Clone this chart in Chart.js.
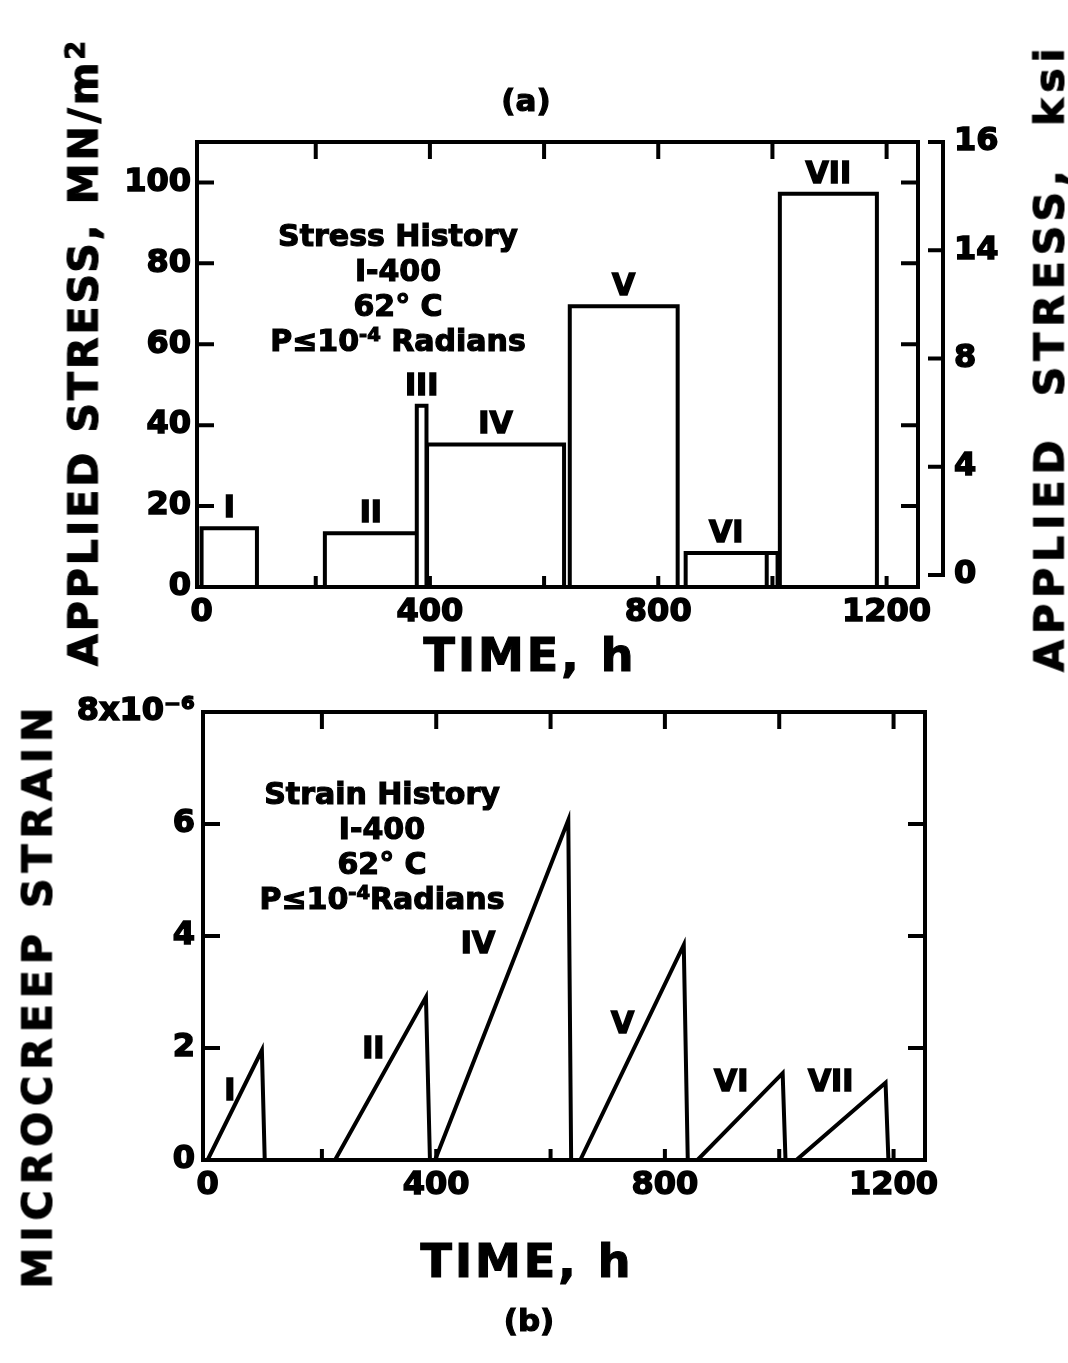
<!DOCTYPE html>
<html>
<head>
<meta charset="utf-8">
<script src="https://cdn.jsdelivr.net/npm/chart.js@4.4.1/dist/chart.umd.min.js"></script>
<style>
  body { margin: 0; background: #fff; }
  #page { position: relative; width: 1068px; height: 1363px; overflow: hidden;
          font-family: "DejaVu Sans", sans-serif; font-weight: bold; color: #000;
          -webkit-text-stroke: 1.2px #000; }
  .panel { position: absolute; left: 0; width: 1068px; }
  .lbl { position: absolute; white-space: nowrap; line-height: 1; transform: translate(-50%, -50%); }
  .vlbl { position: absolute; white-space: nowrap; line-height: 1; transform: translate(-50%, -50%) rotate(-90deg); }
  .note { position: absolute; text-align: center; font-size: 30px; line-height: 35px; white-space: nowrap; transform: translateX(-50%); }
  sup { font-size: 0.65em; vertical-align: 0.5em; line-height: 0; }
</style>
</head>
<body>
<div id="page">
  <div class="panel" style="top:0;height:680px"><canvas id="stressChart"></canvas></div>
  <div class="panel" style="top:680px;height:683px"><canvas id="strainChart"></canvas></div>

  <div class="lbl" style="left:526px;top:100px;font-size:31px">(a)</div>
  <div class="lbl" style="left:529px;top:1320px;font-size:31px">(b)</div>

  <div class="vlbl" style="left:84px;top:352px;font-size:41px;letter-spacing:3px">APPLIED STRESS, MN/m<sup>2</sup></div>
  <div class="vlbl" style="left:1050px;top:357px;font-size:41px;letter-spacing:6px;word-spacing:18px">APPLIED STRESS, ksi</div>
  <div class="vlbl" style="left:38px;top:995px;font-size:41px;letter-spacing:6px">MICROCREEP STRAIN</div>

  <div class="lbl" style="left:530px;top:655px;font-size:46px;letter-spacing:3px">TIME, h</div>
  <div class="lbl" style="left:527px;top:1261px;font-size:46px;letter-spacing:3px">TIME, h</div>

  <div class="note" style="left:398px;top:218px">Stress History<br>I-400<br>62° C<br>P≤10<sup>-4</sup> Radians</div>
  <div class="note" style="left:382px;top:776px">Strain History<br>I-400<br>62° C<br>P≤10<sup>-4</sup>Radians</div>
</div>

<script>
// time axis, shared by both panels
const hours = [0, 200, 400, 600, 800, 1000, 1200];
const hourLabels = ['0', '', '400', '', '800', '', '1200'];

// (a) stress history: each loading period is a block from start to end hour
const periods = ['I', 'II', 'III', 'IV', 'V', 'VI', '', 'VII'];
const periodStart = [0, 216, 377, 395, 645, 848, 990, 1013];
const periodEnd = [97, 377, 394, 635, 834, 990, 1009, 1183];
const stressMN = [14.5, 13.3, 44.8, 35.2, 69.4, 8.4, 8.4, 97.2];
const mnTicks = [0, 20, 40, 60, 80, 100];
const mnLabels = ['0', '20', '40', '60', '80', '100'];
const ksiTicks = [0, 4, 8, 12, 16];
const ksiLabels = ['0', '4', '8', '14', '16'];

// (b) strain history: ramp up while loaded, drop back when unloaded
const loadings = ['I', 'II', 'IV', 'V', 'VI', 'VII'];
const rampStart = [0, 223, 398, 652, 857, 1030];
const rampPeakTime = [95, 382, 631, 833, 1006, 1186];
const rampPeak = [1.96, 2.91, 6.07, 3.84, 1.55, 1.38];
const unloadTime = [100, 389, 636, 840, 1011, 1191];
const strainTicks = [0, 2, 4, 6, 8];
const strainLabels = ['0', '2', '4', '6', '8x10⁻⁶'];

const tickFont = { family: 'DejaVu Sans', weight: 'bold', size: 32 };
const LINE = 4;

// build the block outlines, null breaks the line between periods
const stressPts = [];
periodStart.forEach((t0, i) => {
  const t1 = periodEnd[i], s = stressMN[i];
  stressPts.push({ x: t0, y: 0 }, { x: t0, y: s }, { x: t1, y: s }, { x: t1, y: 0 }, { x: t1, y: null });
});

const strainPts = [];
rampStart.forEach((t0, i) => {
  strainPts.push({ x: t0, y: 0 }, { x: rampPeakTime[i], y: rampPeak[i] }, { x: unloadTime[i], y: 0 }, { x: unloadTime[i], y: null });
});

// box around the plot with ticks pointing inwards on all four sides
const frame = {
  id: 'frame',
  afterDatasetsDraw(chart) {
    const { ctx, chartArea: a } = chart;
    const x = chart.scales.x, y = chart.scales.y;
    ctx.save();
    ctx.strokeStyle = '#000';
    ctx.lineWidth = LINE;
    ctx.strokeRect(a.left, a.top, a.right - a.left, a.bottom - a.top);
    ctx.beginPath();
    y.ticks.forEach(t => {
      const py = y.getPixelForValue(t.value);
      if (py - a.top < 8 || a.bottom - py < 8) return;
      ctx.moveTo(a.left, py); ctx.lineTo(a.left + 17, py);
      ctx.moveTo(a.right, py); ctx.lineTo(a.right - 17, py);
    });
    x.ticks.forEach(t => {
      const px = x.getPixelForValue(t.value);
      if (px - a.left < 8 || a.right - px < 8) return;
      ctx.moveTo(px, a.top); ctx.lineTo(px, a.top + 17);
      ctx.moveTo(px, a.bottom); ctx.lineTo(px, a.bottom - 11);
    });
    ctx.stroke();
    ctx.restore();
  }
};

// separate ksi scale drawn as a bracket beside the plot
const ksiBracket = {
  id: 'ksiBracket',
  afterDraw(chart) {
    const s = chart.scales.ksi;
    if (!s) return;
    const ctx = chart.ctx, bx = chart.chartArea.right + 25;
    ctx.save();
    ctx.strokeStyle = '#000';
    ctx.lineWidth = LINE;
    ctx.beginPath();
    ctx.moveTo(bx, s.getPixelForValue(ksiTicks[0]));
    ctx.lineTo(bx, s.getPixelForValue(ksiTicks[ksiTicks.length - 1]));
    s.ticks.forEach(t => {
      const py = s.getPixelForValue(t.value);
      ctx.moveTo(bx + 2, py); ctx.lineTo(bx - 15, py);
    });
    ctx.stroke();
    ctx.restore();
  }
};

// roman numeral tags placed in data units
const tags = {
  id: 'tags',
  afterDatasetsDraw(chart, args, opts) {
    const { ctx } = chart;
    const x = chart.scales.x, y = chart.scales.y;
    ctx.save();
    ctx.font = 'bold 30px "DejaVu Sans"';
    ctx.fillStyle = '#000';
    ctx.strokeStyle = '#000';
    ctx.lineWidth = 1.5;
    ctx.textAlign = 'center';
    ctx.textBaseline = opts.baseline;
    opts.items.forEach(it => {
      const px = x.getPixelForValue(it.x), py = y.getPixelForValue(it.y) - opts.lift;
      ctx.fillText(it.text, px, py);
      ctx.strokeText(it.text, px, py);
    });
    ctx.restore();
  }
};

function tickStyle(labels, padding) {
  return {
    callback: (v, i) => labels[i], padding: padding, maxRotation: 0, autoSkip: false,
    color: '#000', font: tickFont, textStrokeColor: '#000', textStrokeWidth: 1.5
  };
}

function timeAxis(height) {
  return {
    type: 'linear', min: -8, max: 1255,
    afterBuildTicks: s => { s.ticks = hours.map(v => ({ value: v })); },
    afterFit: s => { s.height = height; },
    grid: { display: false, drawTicks: false },
    border: { display: false },
    ticks: tickStyle(hourLabels, 6)
  };
}

// (a) stress chart
new Chart(document.getElementById('stressChart'), {
  type: 'line',
  data: {
    datasets: [{ data: stressPts, borderColor: '#000', borderWidth: LINE, pointRadius: 0, tension: 0, spanGaps: false }]
  },
  options: {
    responsive: true, maintainAspectRatio: false, animation: false,
    layout: { padding: { top: 142, left: 0, right: 0, bottom: 0 } },
    plugins: {
      legend: { display: false }, tooltip: { enabled: false },
      tags: {
        baseline: 'bottom', lift: 4,
        items: periods.map((p, i) => ({ text: p, x: (periodStart[i] + periodEnd[i]) / 2, y: stressMN[i] })).filter(t => t.text)
      }
    },
    scales: {
      x: timeAxis(93),
      y: {
        min: 0, max: 110,
        afterBuildTicks: s => { s.ticks = mnTicks.map(v => ({ value: v })); },
        afterFit: s => { s.width = 197; },
        grid: { display: false, drawTicks: false },
        border: { display: false },
        ticks: tickStyle(mnLabels, 6)
      },
      ksi: {
        position: 'right', min: -0.44, max: 16,
        afterBuildTicks: s => { s.ticks = ksiTicks.map(v => ({ value: v })); },
        afterFit: s => { s.width = 150; },
        grid: { display: false, drawTicks: false },
        border: { display: false },
        ticks: tickStyle(ksiLabels, 36)
      }
    }
  },
  plugins: [frame, ksiBracket, tags]
});

// (b) strain chart
new Chart(document.getElementById('strainChart'), {
  type: 'line',
  data: {
    datasets: [{ data: strainPts, borderColor: '#000', borderWidth: LINE, pointRadius: 0, tension: 0, spanGaps: false }]
  },
  options: {
    responsive: true, maintainAspectRatio: false, animation: false,
    layout: { padding: { top: 32, left: 0, right: 143, bottom: 0 } },
    plugins: {
      legend: { display: false }, tooltip: { enabled: false },
      tags: {
        baseline: 'middle', lift: 0,
        items: [
          { text: loadings[0], x: 39, y: 1.21 },
          { text: loadings[1], x: 290, y: 1.96 },
          { text: loadings[2], x: 473, y: 3.84 },
          { text: loadings[3], x: 726, y: 2.41 },
          { text: loadings[4], x: 916, y: 1.38 },
          { text: loadings[5], x: 1090, y: 1.38 }
        ]
      }
    },
    scales: {
      x: timeAxis(203),
      y: {
        min: 0, max: 8,
        afterBuildTicks: s => { s.ticks = strainTicks.map(v => ({ value: v })); },
        afterFit: s => { s.width = 203; },
        grid: { display: false, drawTicks: false },
        border: { display: false },
        ticks: tickStyle(strainLabels, 8)
      }
    }
  },
  plugins: [frame, tags]
});
</script>
</body>
</html>
